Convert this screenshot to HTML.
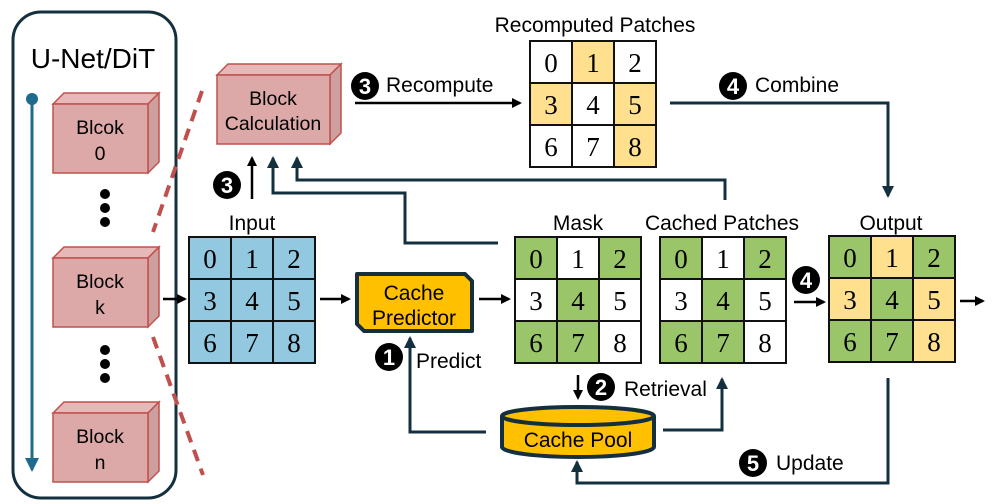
<!DOCTYPE html>
<html><head><meta charset="utf-8"><style>
html,body{margin:0;padding:0;background:#fff;}
svg{display:block;font-family:"Liberation Sans",sans-serif;}
.g{font-family:"Liberation Serif",serif;font-size:27px;text-anchor:middle;}
.c{stroke:#111;stroke-width:2;}
.l{font-size:21px;}
.ln{fill:none;stroke:#14303f;stroke-width:3;}
</style></head><body>
<svg width="997" height="504" viewBox="0 0 997 504" xmlns="http://www.w3.org/2000/svg">
<defs>
<marker id="ab" markerWidth="10" markerHeight="10" refX="8" refY="5" orient="auto" markerUnits="userSpaceOnUse"><path d="M0,0 L10,5 L0,10 z" fill="#000"/></marker>
<marker id="an" markerWidth="12" markerHeight="12" refX="10" refY="6" orient="auto" markerUnits="userSpaceOnUse"><path d="M0,0 L12,6 L0,12 z" fill="#14303f"/></marker>
<marker id="au" markerWidth="14" markerHeight="14" refX="12" refY="7" orient="auto" markerUnits="userSpaceOnUse"><path d="M0,0 L14,7 L0,14 z" fill="#1f6b8e"/></marker>
</defs>

<rect x="13" y="12" width="163" height="486" rx="28" fill="none" stroke="#14303f" stroke-width="3"/>
<text x="93" y="68" font-size="28" text-anchor="middle">U-Net/DiT</text>
<line x1="32" y1="99" x2="32" y2="470" stroke="#1f6b8e" stroke-width="3" marker-end="url(#au)"/>
<circle cx="32" cy="99" r="6" fill="#1f6b8e"/>

<g stroke="#c0504d" stroke-width="1.5">
<polygon points="53,104 64,93 159,93 148,104" fill="#e6b8b7"/><polygon points="148,104 159,93 159,162 148,173" fill="#cda09f"/><rect x="53" y="104" width="95" height="69" fill="#dca9a8"/>
<polygon points="53,258 64,247 159,247 148,258" fill="#e6b8b7"/><polygon points="148,258 159,247 159,316 148,327" fill="#cda09f"/><rect x="53" y="258" width="95" height="69" fill="#dca9a8"/>
<polygon points="53,413 64,402 159,402 148,413" fill="#e6b8b7"/><polygon points="148,413 159,402 159,471 148,482" fill="#cda09f"/><rect x="53" y="413" width="95" height="69" fill="#dca9a8"/>
<polygon points="217,75 228,64 341,64 330,75" fill="#e6b8b7"/><polygon points="330,75 341,64 341,133 330,144" fill="#cda09f"/><rect x="217" y="75" width="113" height="69" fill="#dca9a8"/>
</g>
<g font-size="19.5" text-anchor="middle">
<text x="100" y="134">Blcok</text><text x="100" y="160">0</text>
<text x="100" y="288">Block</text><text x="100" y="314">k</text>
<text x="100" y="443">Block</text><text x="100" y="469">n</text>
<text x="273" y="105">Block</text><text x="273" y="130">Calculation</text>
</g>
<g fill="#000"><circle cx="105" cy="194" r="5"/><circle cx="105" cy="208" r="5"/><circle cx="105" cy="222" r="5"/>
<circle cx="105" cy="350" r="5"/><circle cx="105" cy="364" r="5"/><circle cx="105" cy="378" r="5"/></g>
<line x1="202" y1="91" x2="153" y2="232" stroke="#c0504d" stroke-width="4" stroke-dasharray="12,8"/>
<line x1="153" y1="337" x2="203" y2="475" stroke="#c0504d" stroke-width="4" stroke-dasharray="12,8"/>

<text x="252" y="230" class="l" text-anchor="middle">Input</text>
<g class="c" fill="#92c9e0"><rect x="189" y="237" width="42" height="42"/><rect x="231" y="237" width="42" height="42"/><rect x="273" y="237" width="42" height="42"/><rect x="189" y="279" width="42" height="42"/><rect x="231" y="279" width="42" height="42"/><rect x="273" y="279" width="42" height="42"/><rect x="189" y="321" width="42" height="42"/><rect x="231" y="321" width="42" height="42"/><rect x="273" y="321" width="42" height="42"/></g>
<g class="g"><text x="210" y="268">0</text><text x="252" y="268">1</text><text x="294" y="268">2</text><text x="210" y="310">3</text><text x="252" y="310">4</text><text x="294" y="310">5</text><text x="210" y="352">6</text><text x="252" y="352">7</text><text x="294" y="352">8</text></g>

<text x="595" y="32" class="l" text-anchor="middle">Recomputed Patches</text>
<g class="c"><rect x="530" y="41" width="42" height="42" fill="#fff"/><rect x="572" y="41" width="42" height="42" fill="#ffe08f"/><rect x="614" y="41" width="42" height="42" fill="#fff"/><rect x="530" y="83" width="42" height="42" fill="#ffe08f"/><rect x="572" y="83" width="42" height="42" fill="#fff"/><rect x="614" y="83" width="42" height="42" fill="#ffe08f"/><rect x="530" y="125" width="42" height="42" fill="#fff"/><rect x="572" y="125" width="42" height="42" fill="#fff"/><rect x="614" y="125" width="42" height="42" fill="#ffe08f"/></g>
<g class="g"><text x="551" y="72">0</text><text x="593" y="72">1</text><text x="635" y="72">2</text><text x="551" y="114">3</text><text x="593" y="114">4</text><text x="635" y="114">5</text><text x="551" y="156">6</text><text x="593" y="156">7</text><text x="635" y="156">8</text></g>

<text x="578" y="230" class="l" text-anchor="middle">Mask</text>
<g class="c"><rect x="515" y="237" width="42" height="42" fill="#9bc569"/><rect x="557" y="237" width="42" height="42" fill="#fff"/><rect x="599" y="237" width="42" height="42" fill="#9bc569"/><rect x="515" y="279" width="42" height="42" fill="#fff"/><rect x="557" y="279" width="42" height="42" fill="#9bc569"/><rect x="599" y="279" width="42" height="42" fill="#fff"/><rect x="515" y="321" width="42" height="42" fill="#9bc569"/><rect x="557" y="321" width="42" height="42" fill="#9bc569"/><rect x="599" y="321" width="42" height="42" fill="#fff"/></g>
<g class="g"><text x="536" y="268">0</text><text x="578" y="268">1</text><text x="620" y="268">2</text><text x="536" y="310">3</text><text x="578" y="310">4</text><text x="620" y="310">5</text><text x="536" y="352">6</text><text x="578" y="352">7</text><text x="620" y="352">8</text></g>

<text x="722" y="230" class="l" text-anchor="middle">Cached Patches</text>
<g class="c"><rect x="660" y="237" width="42" height="42" fill="#9bc569"/><rect x="702" y="237" width="42" height="42" fill="#fff"/><rect x="744" y="237" width="42" height="42" fill="#9bc569"/><rect x="660" y="279" width="42" height="42" fill="#fff"/><rect x="702" y="279" width="42" height="42" fill="#9bc569"/><rect x="744" y="279" width="42" height="42" fill="#fff"/><rect x="660" y="321" width="42" height="42" fill="#9bc569"/><rect x="702" y="321" width="42" height="42" fill="#9bc569"/><rect x="744" y="321" width="42" height="42" fill="#fff"/></g>
<g class="g"><text x="681" y="268">0</text><text x="723" y="268">1</text><text x="765" y="268">2</text><text x="681" y="310">3</text><text x="723" y="310">4</text><text x="765" y="310">5</text><text x="681" y="352">6</text><text x="723" y="352">7</text><text x="765" y="352">8</text></g>

<text x="891" y="230" class="l" text-anchor="middle">Output</text>
<g class="c"><rect x="829" y="236" width="42" height="42" fill="#9bc569"/><rect x="871" y="236" width="42" height="42" fill="#ffe08f"/><rect x="913" y="236" width="42" height="42" fill="#9bc569"/><rect x="829" y="278" width="42" height="42" fill="#ffe08f"/><rect x="871" y="278" width="42" height="42" fill="#9bc569"/><rect x="913" y="278" width="42" height="42" fill="#ffe08f"/><rect x="829" y="320" width="42" height="42" fill="#9bc569"/><rect x="871" y="320" width="42" height="42" fill="#9bc569"/><rect x="913" y="320" width="42" height="42" fill="#ffe08f"/></g>
<g class="g"><text x="850" y="267">0</text><text x="892" y="267">1</text><text x="934" y="267">2</text><text x="850" y="309">3</text><text x="892" y="309">4</text><text x="934" y="309">5</text><text x="850" y="351">6</text><text x="892" y="351">7</text><text x="934" y="351">8</text></g>

<polygon points="357,274 465,274 472,281 472,331 364,331 357,324" fill="#ffc000" stroke="#14303f" stroke-width="4" stroke-linejoin="round"/>
<text x="414" y="300" font-size="21" text-anchor="middle">Cache</text>
<text x="414" y="325" font-size="21" text-anchor="middle">Predictor</text>

<path d="M502,416 L502,447 A76,10 0 0 0 654,447 L654,416" fill="#ffc000" stroke="#14303f" stroke-width="4"/>
<ellipse cx="578" cy="416" rx="76" ry="9" fill="#ffc000" stroke="#14303f" stroke-width="4"/>
<text x="578" y="447" font-size="21" text-anchor="middle">Cache Pool</text>

<g stroke="#000" stroke-width="2.5">
<line x1="163" y1="299" x2="185" y2="299" marker-end="url(#ab)"/>
<line x1="320" y1="299" x2="349" y2="299" marker-end="url(#ab)"/>
<line x1="479" y1="299" x2="509" y2="299" marker-end="url(#ab)"/>
<line x1="794" y1="302" x2="824" y2="302" marker-end="url(#ab)"/>
<line x1="960" y1="301" x2="983" y2="301" marker-end="url(#ab)"/>
<line x1="355" y1="103" x2="520" y2="103" marker-end="url(#ab)"/>
<line x1="252" y1="199" x2="252" y2="158" marker-end="url(#ab)"/>
<line x1="578" y1="375" x2="578" y2="398" marker-end="url(#ab)"/>
</g>

<polyline class="ln" points="670,103 888,103 888,196" marker-end="url(#an)"/>
<polyline class="ln" points="498,243 405,243 405,193 273,193 273,158" marker-end="url(#an)"/>
<polyline class="ln" points="725,200 725,180 297,180 297,158" marker-end="url(#an)"/>
<polyline class="ln" points="486,432 410,432 410,338" marker-end="url(#an)"/>
<polyline class="ln" points="663,430 722,430 722,379" marker-end="url(#an)"/>
<polyline class="ln" points="888,378 888,483 577,483 577,462" marker-end="url(#an)"/>

<g font-size="22" font-weight="bold" text-anchor="middle">
<circle cx="365" cy="86" r="14"/><text x="365" y="94" fill="#fff">3</text>
<circle cx="227" cy="185" r="14"/><text x="227" y="193" fill="#fff">3</text>
<circle cx="733" cy="86" r="14"/><text x="733" y="94" fill="#fff">4</text>
<circle cx="806" cy="280" r="14"/><text x="806" y="288" fill="#fff">4</text>
<circle cx="389" cy="357" r="14"/><text x="389" y="365" fill="#fff">1</text>
<circle cx="601" cy="387" r="14"/><text x="601" y="395" fill="#fff">2</text>
<circle cx="753" cy="463" r="14"/><text x="753" y="471" fill="#fff">5</text>
</g>
<g class="l">
<text x="386" y="92">Recompute</text>
<text x="755" y="92">Combine</text>
<text x="416" y="368">Predict</text>
<text x="624" y="396">Retrieval</text>
<text x="776" y="470">Update</text>
</g>
</svg>
</body></html>
